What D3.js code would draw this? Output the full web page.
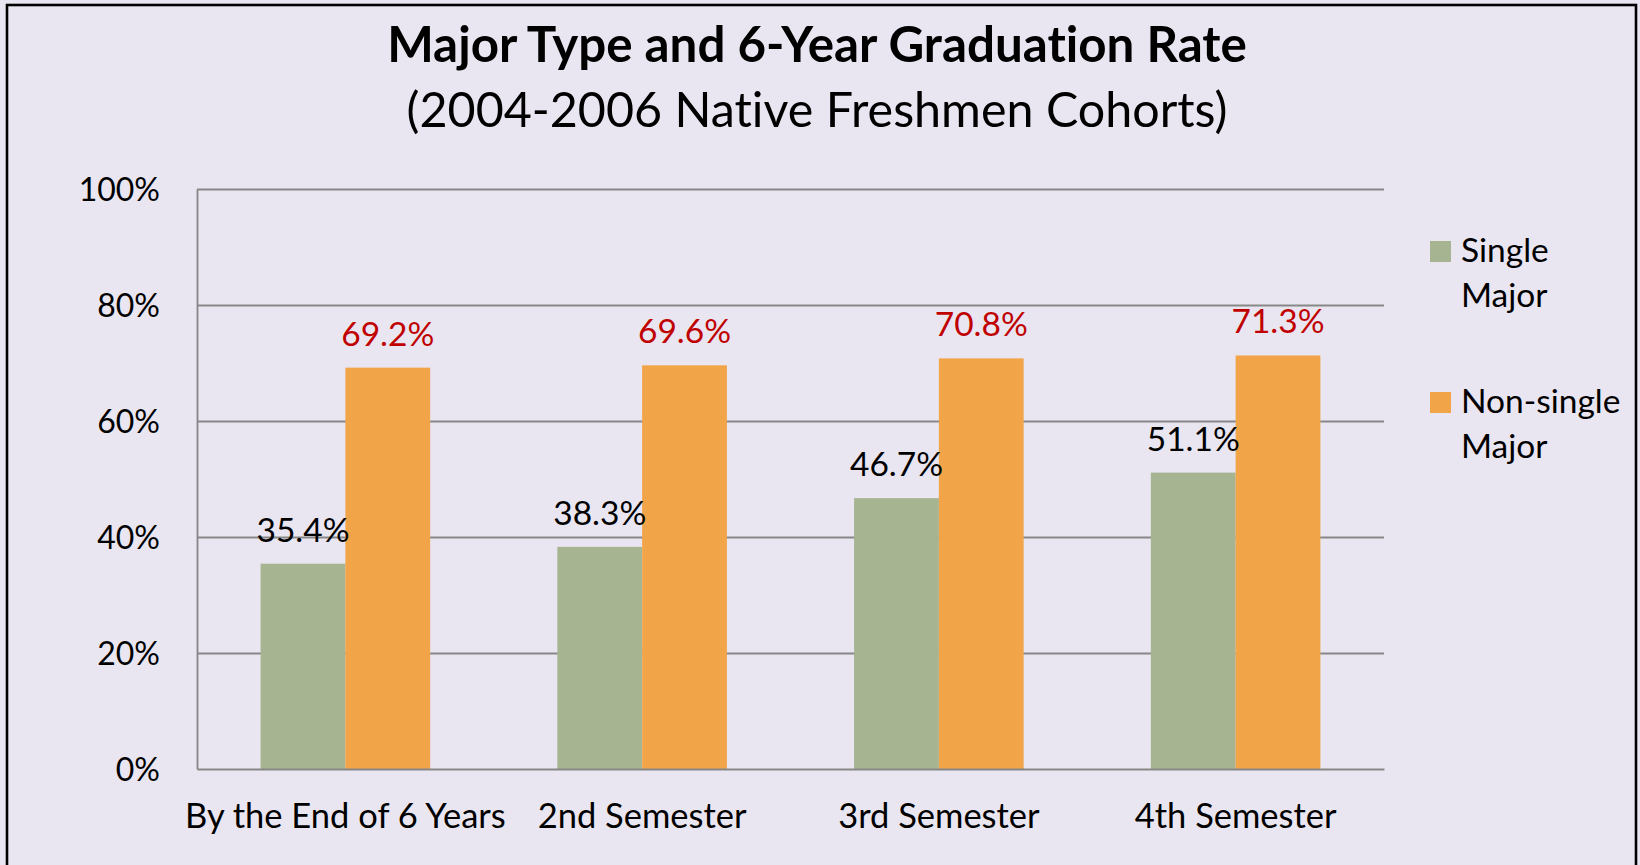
<!DOCTYPE html>
<html>
<head>
<meta charset="utf-8">
<script src="https://cdn.jsdelivr.net/npm/d3@7"></script>
<style>
  html, body { margin: 0; padding: 0; background: #E9E6F1; }
  svg { display: block; }
  text { font-family: Lato, "Open Sans", sans-serif; font-variant-ligatures: none; font-feature-settings: "liga" 0, "clig" 0, "dlig" 0; }
</style>
</head>
<body>
<svg id="chart" width="1640" height="865"></svg>
<script>
const categories = ["By the End of 6 Years", "2nd Semester", "3rd Semester", "4th Semester"];
const seriesNames = ["Single Major", "Non-single Major"];
const singleMajor = [35.4, 38.3, 46.7, 51.1];
const nonSingleMajor = [69.2, 69.6, 70.8, 71.3];
const yTicks = [0, 20, 40, 60, 80, 100];
const titleText = "Major Type and 6-Year Graduation Rate";
const subtitleText = "(2004-2006 Native Freshmen Cohorts)";
const legendLines = [["Single", "Major"], ["Non-single", "Major"]];

const colors = ["#A6B491", "#F2A548"];
const labelColors = ["#000000", "#C00000"];

const svg = d3.select("#chart");
const W = 1640, H = 865;

svg.append("rect").attr("x", 0).attr("y", 0).attr("width", W).attr("height", H).attr("fill", "#E9E6F1");
svg.append("rect").attr("x", 7).attr("y", 5).attr("width", 1629).attr("height", 875)
  .attr("fill", "none").attr("stroke", "#000").attr("stroke-width", 2.6);

const plot = { left: 197, right: 1384, top: 189, bottom: 769 };

const x0 = d3.scaleBand().domain(categories).range([plot.left, plot.right])
  .paddingInner(1.5 / 3.5).paddingOuter(0.75 / 3.5);
const x1 = d3.scaleBand().domain(seriesNames).range([0, x0.bandwidth()]).padding(0);
const y = d3.scaleLinear().domain([0, 100]).range([plot.bottom, plot.top]);

// gridlines
const grid = svg.append("g").attr("transform", `translate(${plot.left},0)`)
  .call(d3.axisLeft(y).tickValues(yTicks.filter(d => d > 0)).tickSize(-(plot.right - plot.left)).tickFormat(""));
grid.select(".domain").remove();
grid.selectAll("line").attr("stroke", "#878787").attr("stroke-width", 1.8);

// y axis
const yAxis = svg.append("g").attr("transform", `translate(${plot.left},0)`)
  .call(d3.axisLeft(y).tickValues(yTicks).tickFormat(d => d + "%").tickSize(0).tickPadding(37));
yAxis.select(".domain").attr("stroke", "#878787").attr("stroke-width", 1.8);
yAxis.selectAll("text").attr("font-size", 32).attr("fill", "#000")
  .attr("font-family", "Lato, 'Open Sans', sans-serif").attr("dy", "0.36em");

// bars
const data = categories.map((c, i) => ({ cat: c, vals: [singleMajor[i], nonSingleMajor[i]] }));
const groups = svg.append("g").selectAll("g").data(data).join("g")
  .attr("transform", d => `translate(${x0(d.cat)},0)`);
groups.selectAll("rect").data(d => d.vals.map((v, k) => ({ v, k }))).join("rect")
  .attr("x", d => x1(seriesNames[d.k]))
  .attr("y", d => y(d.v))
  .attr("width", x1.bandwidth())
  .attr("height", d => y(0) - y(d.v))
  .attr("fill", d => colors[d.k]);
groups.selectAll("text").data(d => d.vals.map((v, k) => ({ v, k }))).join("text")
  .attr("x", d => x1(seriesNames[d.k]) + x1.bandwidth() / 2)
  .attr("y", d => y(d.v) - 22)
  .attr("text-anchor", "middle")
  .attr("font-size", 33.5)
  .attr("fill", d => labelColors[d.k])
  .text(d => d.v.toFixed(1) + "%");

// x axis
const xAxis = svg.append("g").attr("transform", `translate(0,${plot.bottom})`)
  .call(d3.axisBottom(x0).tickSize(0));
xAxis.select(".domain").attr("stroke", "#878787").attr("stroke-width", 1.8);
xAxis.selectAll("text").attr("y", 59).attr("dy", 0).attr("font-size", 34.5).attr("fill", "#000")
  .attr("font-family", "Lato, 'Open Sans', sans-serif");

// title, sized to span the same width as the reference
function fitText(sel, target) {
  const w = sel.node().getComputedTextLength();
  const fs = parseFloat(sel.attr("font-size"));
  sel.attr("font-size", fs * target / w);
}
const t1 = svg.append("text").attr("x", 817).attr("y", 62).attr("text-anchor", "middle")
  .attr("font-size", 40).attr("font-weight", "bold").attr("fill", "#000").text(titleText);
fitText(t1, 860);
const t2 = svg.append("text").attr("x", 817).attr("y", 127).attr("text-anchor", "middle")
  .attr("font-size", 40).attr("fill", "#000").text(subtitleText);
fitText(t2, 821);

// legend
const legendY = [241, 392];
const leg = svg.append("g").selectAll("g").data(seriesNames).join("g");
leg.append("rect").attr("x", 1430).attr("y", (d, i) => legendY[i]).attr("width", 21).attr("height", 21)
  .attr("fill", (d, i) => colors[i]);
leg.each(function(d, i) {
  const g = d3.select(this);
  legendLines[i].forEach((ln, j) => {
    g.append("text").attr("x", 1461).attr("y", legendY[i] + 21 + j * 45)
      .attr("font-size", 33.5).attr("fill", "#000").text(ln);
  });
});
</script>
</body>
</html>
